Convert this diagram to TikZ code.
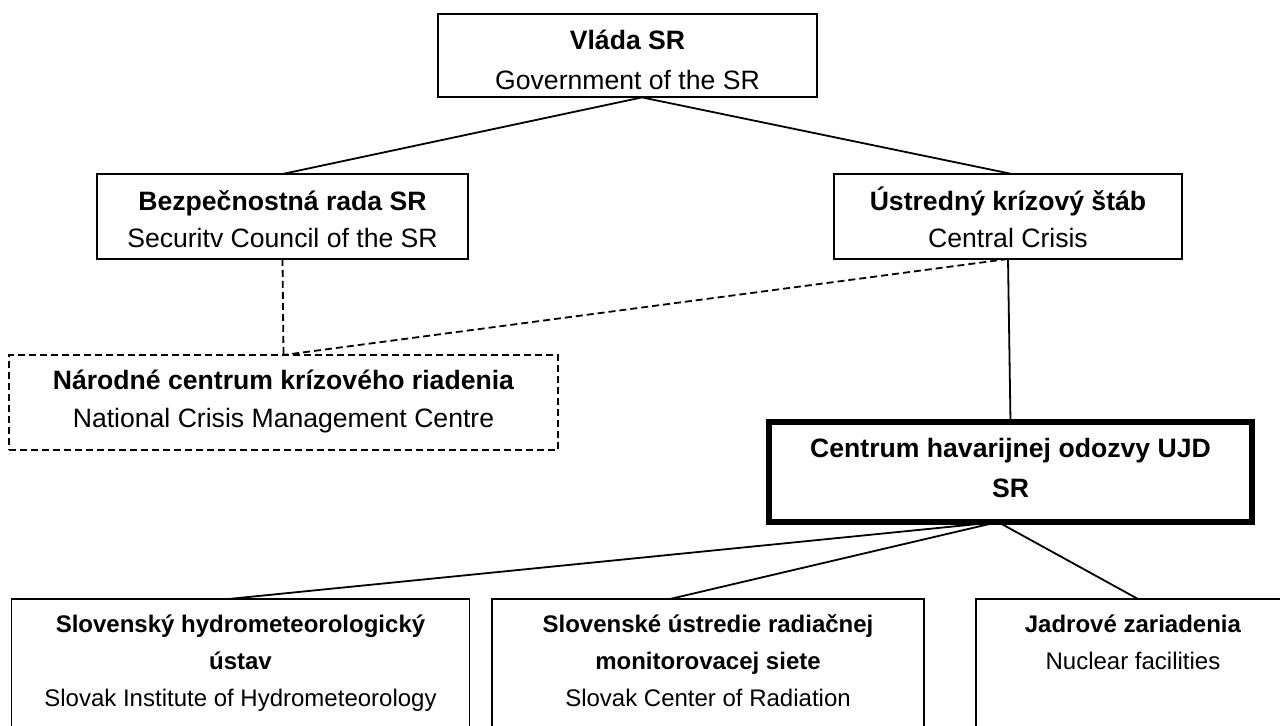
\documentclass[tikz,border=0pt]{standalone}
\usepackage{fontspec}
\setmainfont{Liberation Sans}
\usepackage{tikz}
\usepackage{xcolor}
\definecolor{black}{RGB}{0,0,0}

\newcommand{\upstrut}[1]{\rule{0pt}{#1}}
\newcommand{\downstrut}[1]{\rule[-#1]{0pt}{0pt}}

\begin{document}
\begin{tikzpicture}[x=0.5pt, y=-0.5pt,
        unit/.style={draw, line width=0.9pt, anchor=north, align=center, inner xsep=0pt, inner ysep=1pt, outer sep=0pt},
        dashunit/.style={unit, dash pattern=on 3.5pt off 2pt},
        leadunit/.style={unit, line width=3pt},
        link/.style={line width=0.9pt},
        dashlink/.style={link, dash pattern=on 3.5pt off 2pt}]
            \useasboundingbox (0,0) rectangle (1280,726);
            \clip (0,0) rectangle (1280,726);
            \fill[white] (0,0) rectangle (1280,726);

            % government level
            \node[unit, minimum width=189.5pt, font=\fontsize{13.3}{20}\selectfont] (gov) at (627.5,14)
                {\upstrut{17pt}\textbf{Vláda SR}\\Government of the SR\downstrut{2.7pt}};
            \node[unit, minimum width=185.5pt, font=\fontsize{13.3}{18.5}\selectfont] (council) at (282.5,174)
                {\upstrut{17.5pt}\textbf{Bezpečnostná rada SR}\\Securitv Council of the SR\downstrut{4.5pt}};
            \node[unit, minimum width=174pt, font=\fontsize{13.3}{18.5}\selectfont] (staff) at (1008,174)
                {\upstrut{17.5pt}\textbf{Ústredný krízový štáb}\\Central Crisis\downstrut{4.5pt}};
            \node[dashunit, minimum width=274.5pt, font=\fontsize{13.3}{19}\selectfont] (ncmc) at (283.5,355)
                {\upstrut{16.5pt}\textbf{Národné centrum krízového riadenia}\\National Crisis Management Centre\downstrut{10pt}};
            \node[leadunit, minimum width=241.5pt, font=\fontsize{13.3}{20}\selectfont\bfseries] (ujd) at (1010.5,422)
                {\upstrut{17pt}Centrum havarijnej odozvy UJD\\SR\downstrut{11pt}};

            % bottom row, cut off by the page edge
            \node[unit, minimum width=229pt, font=\fontsize{12}{18.25}\selectfont] (shmu) at (240.5,599)
                {\upstrut{16pt}\textbf{Slovenský hydrometeorologický}\\\textbf{ústav}\\Slovak Institute of Hydrometeorology\downstrut{100pt}};
            \node[unit, minimum width=216pt, font=\fontsize{12}{18.25}\selectfont] (srms) at (708,599)
                {\upstrut{16pt}\textbf{Slovenské ústredie radiačnej}\\\textbf{monitorovacej siete}\\Slovak Center of Radiation\downstrut{100pt}};
            \node[unit, minimum width=157pt, font=\fontsize{12}{18}\selectfont] (npp) at (1133,599)
                {\upstrut{16pt}\textbf{Jadrové zariadenia}\\Nuclear facilities\downstrut{100pt}};

            \coordinate (govfoot) at ([xshift=7.25pt]gov.south);
            \coordinate (ujdfoot) at ([xshift=-6.25pt]ujd.south);

            \draw[link] (govfoot) -- (council.north);
            \draw[link] (govfoot) -- ([xshift=2pt]staff.north);
            \draw[dashlink] (council.south) -- (ncmc.north);
            \draw[dashlink] (staff.south) -- (ncmc.north);
            \draw[link] (staff.south) -- (ujd.north);
            \draw[link] (ujdfoot) -- ([xshift=-6pt]shmu.north);
            \draw[link] (ujdfoot) -- ([xshift=-19pt]srms.north);
            \draw[link] (ujdfoot) -- ([xshift=2.5pt]npp.north);
        \end{tikzpicture}
\end{document}
